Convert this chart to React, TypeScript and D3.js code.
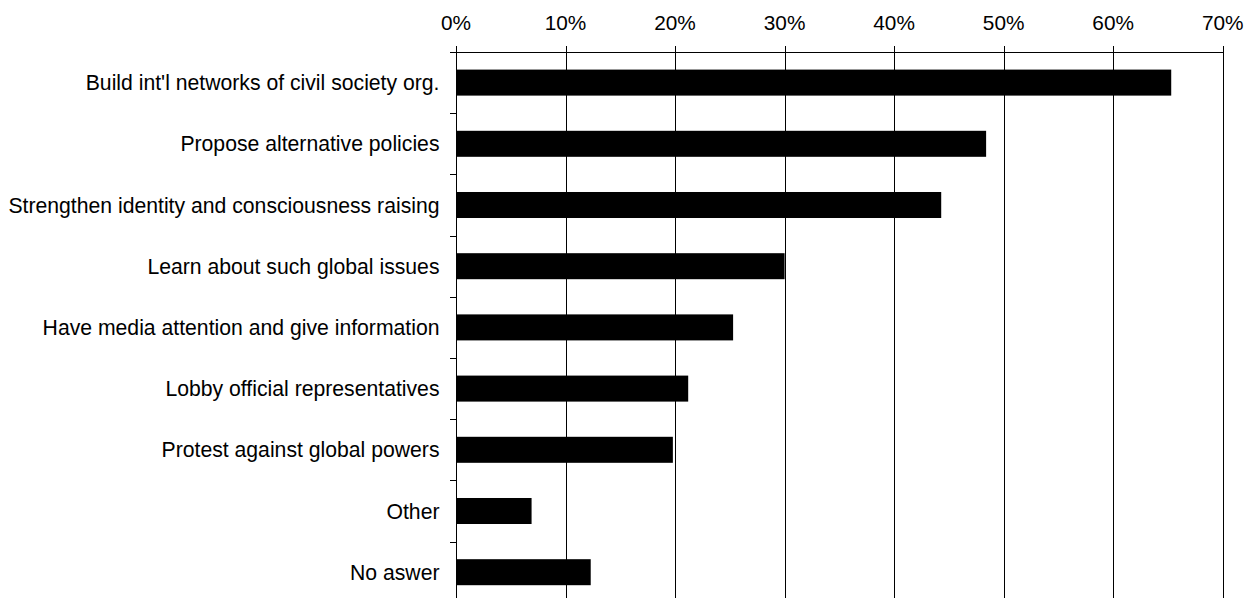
import React from "react";
import * as d3 from "d3";

const categories = [
  "Build int'l networks of civil society org.",
  "Propose alternative policies",
  "Strengthen identity and consciousness raising",
  "Learn about such global issues",
  "Have media attention and give information",
  "Lobby official representatives",
  "Protest against global powers",
  "Other",
  "No aswer",
];
const values = [65.3, 48.4, 44.3, 30.0, 25.3, 21.2, 19.8, 6.9, 12.3];
const xTicks = [0, 10, 20, 30, 40, 50, 60, 70];

const W = 1256;
const H = 598;
const left = 456;
const right = 1222.7;
const top = 52;
const band = 61.2;
const bottom = top + band * categories.length;
const font = "Arial, 'Liberation Sans', sans-serif";

export default function App() {
  const x = d3.scaleLinear().domain([0, 70]).range([left, right]);
  const y = d3
    .scaleBand<string>()
    .domain(categories)
    .range([top, bottom])
    .paddingInner(0.575)
    .paddingOuter(0.2875);
  const bh = y.bandwidth();
  const boundaries = d3.range(categories.length + 1).map((i) => top + i * band);

  return (
    <svg
      width={W}
      height={H}
      style={{ position: "absolute", left: 0, top: 0, background: "#fff" }}
    >
      {xTicks.slice(1).map((t) => (
        <line
          key={"g" + t}
          x1={Math.round(x(t)) + 0.5}
          x2={Math.round(x(t)) + 0.5}
          y1={top}
          y2={bottom}
          stroke="#000"
          strokeWidth={1}
        />
      ))}
      {categories.map((c, i) => (
        <rect
          key={c}
          x={x(0)}
          y={y(c)!}
          width={x(values[i]) - x(0)}
          height={bh}
          fill="#000"
        />
      ))}
      <line x1={Math.round(left) + 0.5} x2={Math.round(right) + 0.5} y1={top + 0.5} y2={top + 0.5} stroke="#000" />
      {xTicks.map((t) => (
        <g key={"t" + t}>
          <line
            x1={Math.round(x(t)) + 0.5}
            x2={Math.round(x(t)) + 0.5}
            y1={top - 6}
            y2={top}
            stroke="#000"
          />
          <text
            x={x(t)}
            y={29.5}
            textAnchor="middle"
            fontFamily={font}
            fontSize={20.8}
            fill="#000"
          >
            {t + "%"}
          </text>
        </g>
      ))}
      <line x1={Math.round(left) + 0.5} x2={Math.round(left) + 0.5} y1={top} y2={bottom} stroke="#000" />
      {boundaries.map((b, i) => (
        <line
          key={"lt" + i}
          x1={left - 6}
          x2={left}
          y1={Math.round(b) + 0.5}
          y2={Math.round(b) + 0.5}
          stroke="#000"
        />
      ))}
      {categories.map((c) => (
        <text
          key={"l" + c}
          x={left - 16.5}
          y={y(c)! + bh / 2 + 7.5}
          textAnchor="end"
          fontFamily={font}
          fontSize={21.2}
          fill="#000"
        >
          {c}
        </text>
      ))}
    </svg>
  );
}
